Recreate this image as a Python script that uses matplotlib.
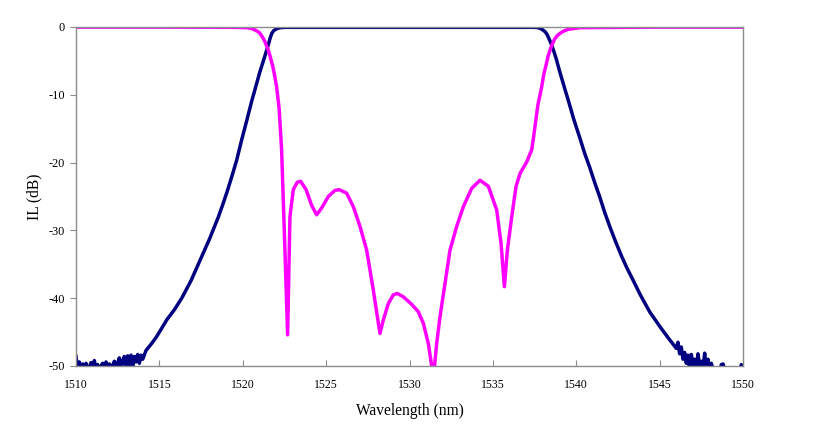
import matplotlib
matplotlib.use("Agg")
import matplotlib.pyplot as plt

plt.rcParams['font.family'] = ['Liberation Serif', 'DejaVu Serif']
plt.rcParams['axes.unicode_minus'] = False

# ---- Blue (pass) curve ----
blue_noise_left_wl = [1510.0, 1510.1, 1510.2, 1510.3, 1510.4, 1510.5, 1510.6, 1510.7, 1510.8, 1510.9,
                      1511.0, 1511.1, 1511.2, 1511.3, 1511.4, 1511.5, 1511.6, 1511.7, 1511.8, 1511.9,
                      1512.0, 1512.1, 1512.2, 1512.3, 1512.4, 1512.5, 1512.6, 1512.7, 1512.8, 1512.9,
                      1513.0, 1513.1, 1513.2, 1513.3, 1513.4, 1513.5, 1513.6, 1513.7, 1513.8, 1513.9,
                      1514.0]
blue_noise_left_il = [-48.6, -50.5, -49.4, -50.5, -49.7, -50.5, -49.6, -50.5, -50.2, -49.5,
                      -50.5, -49.2, -50.5, -49.8, -50.5, -50.0, -49.6, -50.5, -49.4, -50.5,
                      -49.7, -50.5, -49.9, -49.3, -50.5, -49.5, -48.8, -50.5, -49.2, -48.6,
                      -50.3, -48.5, -49.8, -48.4, -50.0, -48.6, -49.4, -48.3, -49.6, -48.4,
                      -49.0]
blue_edge_wl = [1514.2, 1514.5, 1514.8, 1515.1, 1515.44, 1515.9, 1516.34, 1516.9, 1517.44, 1518.0,
                1518.54, 1518.8, 1519.1, 1519.4, 1519.64, 1519.94, 1520.25, 1520.53, 1520.8, 1521.03,
                1521.3, 1521.53, 1521.63, 1521.73, 1521.85, 1522.0, 1522.15, 1522.33, 1522.6, 1530.0,
                1537.5, 1537.72, 1537.92, 1538.13, 1538.25, 1538.38, 1538.5, 1538.63, 1538.8, 1539.0,
                1539.25, 1539.52, 1539.85, 1540.22, 1540.5, 1540.82, 1541.1, 1541.4, 1541.7, 1542.02,
                1542.35, 1542.7, 1543.05, 1543.42, 1543.82, 1544.4, 1545.02, 1545.5, 1546.0]
blue_edge_il = [-47.7, -46.8, -45.8, -44.6, -43.2, -41.7, -40.0, -37.4, -34.4, -31.3,
                -28.0, -26.2, -24.0, -21.6, -19.6, -16.6, -13.7, -11.0, -8.6, -6.6,
                -4.5, -2.65, -1.75, -1.0, -0.55, -0.3, -0.15, -0.08, -0.05, -0.05,
                -0.05, -0.1, -0.3, -0.69, -1.1, -1.8, -2.5, -3.4, -4.7, -6.5,
                -8.6, -10.8, -13.6, -16.4, -18.6, -20.8, -22.9, -25.0, -27.3, -29.5,
                -31.6, -33.7, -35.6, -37.4, -39.4, -42.0, -44.2, -45.8, -47.4]
blue_noise_right_wl = [1546.1, 1546.2, 1546.3, 1546.4, 1546.5, 1546.6, 1546.7, 1546.8, 1546.9, 1547.0,
                       1547.1, 1547.2, 1547.3, 1547.4, 1547.5, 1547.6, 1547.7, 1547.8, 1547.9, 1548.0,
                       1548.1, 1548.2, 1548.4, 1548.6, 1548.7, 1548.8, 1548.9, 1549.0, 1549.2, 1549.4,
                       1549.6, 1549.8, 1549.9, 1550.0]
blue_noise_right_il = [-46.5, -48.2, -47.2, -49.0, -48.0, -49.6, -48.4, -50.5, -48.3, -49.8,
                       -49.0, -50.5, -48.2, -50.0, -49.3, -50.5, -48.1, -50.5, -49.0, -50.5,
                       -49.6, -50.5, -51.0, -51.0, -49.8, -49.7, -50.5, -51.0, -51.0, -51.0,
                       -51.0, -51.0, -49.8, -50.5]

# ---- Magenta (reflection / reject) curve ----
mag_wl = [1510.0, 1515.0, 1519.5, 1520.24, 1520.5, 1520.7, 1520.9, 1521.03, 1521.15, 1521.3,
          1521.4, 1521.53, 1521.65, 1521.8, 1521.9, 1522.03, 1522.18, 1522.29, 1522.33, 1522.53,
          1522.69, 1522.83, 1523.03, 1523.27, 1523.47, 1523.8, 1524.13, 1524.43, 1524.73, 1525.13,
          1525.53, 1525.79, 1526.23, 1526.63, 1527.03, 1527.43, 1527.83, 1528.07, 1528.23, 1528.43,
          1528.73, 1529.03, 1529.27, 1529.63, 1530.13, 1530.53, 1530.83, 1531.13, 1531.3, 1531.39,
          1531.5, 1531.63, 1531.83, 1532.13, 1532.43, 1532.83, 1533.23, 1533.73, 1534.23, 1534.73,
          1535.23, 1535.49, 1535.69, 1535.87, 1536.13, 1536.39, 1536.63, 1537.03, 1537.33, 1537.43,
          1537.7, 1537.93, 1538.05, 1538.2, 1538.3, 1538.43, 1538.55, 1538.7, 1538.85, 1539.03,
          1539.25, 1539.5, 1540.2, 1545.0, 1550.0]
mag_il = [-0.02, -0.02, -0.05, -0.1, -0.2, -0.4, -0.65, -0.93, -1.35, -2.0,
          -2.6, -3.4, -4.4, -5.8, -7.0, -8.8, -12.0, -16.4, -18.1, -32.9,
          -45.4, -28.0, -24.0, -22.9, -22.75, -24.0, -26.3, -27.7, -26.7, -25.0,
          -24.1, -24.0, -24.5, -26.5, -29.4, -32.9, -38.8, -42.7, -45.2, -43.2,
          -40.8, -39.5, -39.3, -39.8, -40.9, -42.0, -43.7, -46.7, -49.5, -51.0,
          -50.0, -46.7, -42.7, -37.8, -32.9, -29.4, -26.5, -23.8, -22.6, -23.5,
          -27.0, -31.9, -38.3, -32.9, -28.0, -23.5, -21.6, -19.9, -18.1, -16.4,
          -11.5, -8.8, -7.0, -5.5, -4.4, -3.4, -2.6, -1.8, -1.3, -0.93,
          -0.6, -0.35, -0.1, -0.02, -0.02]

blue_wl = blue_noise_left_wl + blue_edge_wl + blue_noise_right_wl
blue_il = blue_noise_left_il + blue_edge_il + blue_noise_right_il

x_ticks = [1510, 1515, 1520, 1525, 1530, 1535, 1540, 1545, 1550]
y_ticks = [0, -10, -20, -30, -40, -50]

fig = plt.figure(figsize=(8.21, 4.26), dpi=100)
ax = fig.add_axes([76/821, 1-366/426, (743-76)/821, (366-27)/426])

ax.plot(blue_wl, blue_il, color='#000080', lw=2.5, solid_joinstyle='round')
ax.plot(mag_wl, mag_il, color='#FF00FF', lw=2.5, solid_joinstyle='round')

ax.set_xlim(1510, 1550)
ax.set_ylim(-50, 0)
ax.set_xticks(x_ticks)
ax.set_yticks(y_ticks)
ax.set_xticklabels([str(t) for t in x_ticks], fontsize=8.5)
ax.set_yticklabels([str(t) for t in y_ticks], fontsize=8.8)

for s in ax.spines.values():
    s.set_color('#8c8c8c')
    s.set_linewidth(1.0)
ax.tick_params(axis='x', direction='in', length=4, color='#8c8c8c', pad=9)
ax.tick_params(axis='y', direction='out', length=4, color='#8c8c8c', pad=4)

ax.set_xlabel('Wavelength (nm)', fontsize=11.2, labelpad=9)
ax.set_ylabel('IL (dB)', fontsize=11.2, labelpad=4.5)

fig.savefig('out.png', dpi=100)
